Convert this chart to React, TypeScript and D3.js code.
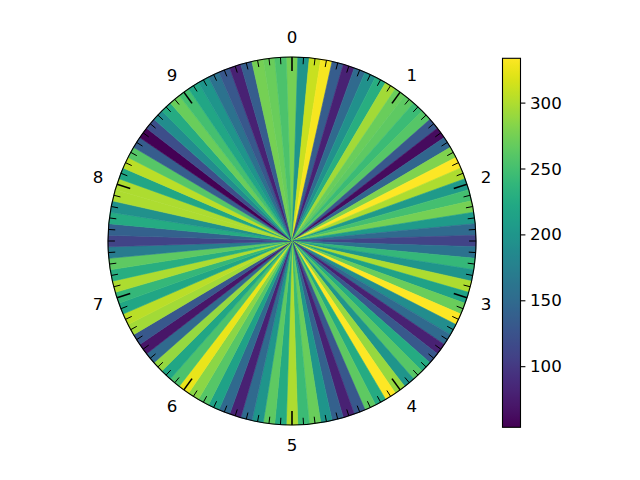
import React from "react";
import * as d3 from "d3";

// Wedge values, clockwise from the top (one wedge per 0.1 unit of theta)
const valuesQ1 = [275, 200, 310, 330, 135, 80, 150, 195, 230, 295, 270, 265, 245, 260, 130, 62, 145, 280, 334, 300, 205, 250, 275, 205, 150];
const valuesQ2 = [110, 160, 240, 200, 300, 215, 270, 333, 190, 150, 80, 130, 225, 260, 200, 290, 333, 225, 265, 130, 80, 140, 200, 270, 245];
const valuesQ3 = [300, 225, 265, 200, 150, 80, 150, 215, 260, 285, 325, 255, 220, 290, 150, 70, 130, 295, 305, 220, 240, 300, 230, 265, 170];
const valuesQ4 = [110, 140, 225, 195, 300, 300, 220, 305, 260, 135, 54, 120, 190, 225, 270, 250, 220, 200, 160, 130, 80, 135, 275, 270, 255];
const values = [...valuesQ1, ...valuesQ2, ...valuesQ3, ...valuesQ4];

const thetaLabels = ["0", "1", "2", "3", "4", "5", "6", "7", "8", "9"];
const colorbarTicks = [100, 150, 200, 250, 300];

const W = 640;
const H = 480;
const cx = 292;
const cy = 241;
const R = 184;
const FONT = "DejaVu Sans, sans-serif";
const FS = 16.67;

export default function App() {
  const n = values.length;
  const step = (2 * Math.PI) / n;
  const band = d3
    .scaleBand<number>()
    .domain(d3.range(n))
    .range([-step / 2, 2 * Math.PI - step / 2])
    .paddingInner(0)
    .paddingOuter(0);
  const theta = d3.scaleLinear().domain([0, 10]).range([0, 2 * Math.PI]);
  const ext = d3.extent(values) as [number, number];
  const color = d3.scaleSequential(d3.interpolateViridis).domain(ext);
  const arc = d3.arc<any>();

  // colorbar
  const cbX = 502.5;
  const cbW = 18;
  const cbTop = 58.3;
  const cbBot = 427.3;
  const cbScale = d3.scaleLinear().domain(ext).range([cbBot, cbTop]);
  const stops = d3.range(0, 1.0001, 0.02);

  const majorTicks = theta.ticks(10).filter((t) => t < 10);
  const minorTicks = d3.range(100).map((i) => i / 10).filter((t) => Math.abs(t - Math.round(t)) > 1e-6);

  const tickLine = (t: number, len: number) => {
    const a = theta(t);
    const s = Math.sin(a);
    const c = Math.cos(a);
    return {
      x1: cx + R * s,
      y1: cy - R * c,
      x2: cx + (R - len) * s,
      y2: cy - (R - len) * c,
    };
  };

  return (
    <svg
      width={W}
      height={H}
      style={{ position: "absolute", left: 0, top: 0, background: "#fff" }}
      fontFamily={FONT}
    >
      <defs>
        <linearGradient id="cbgrad" x1="0" y1="1" x2="0" y2="0">
          {stops.map((s, i) => (
            <stop key={i} offset={s} stopColor={d3.interpolateViridis(s)} />
          ))}
        </linearGradient>
      </defs>
      <g transform={`translate(${cx},${cy})`}>
        {values.map((v, i) => {
          const a0 = band(i)!;
          const a1 = a0 + band.bandwidth();
          const d = arc({ innerRadius: 0, outerRadius: R, startAngle: a0, endAngle: a1 }) as string;
          return <path key={i} d={d} fill={color(v)} stroke={color(v)} strokeWidth={0.6} />;
        })}
      </g>
      <circle cx={cx} cy={cy} r={R} fill="none" stroke="#000" strokeWidth={1.1} />
      {minorTicks.map((t, i) => {
        const l = tickLine(t, 6.9);
        return <line key={"mi" + i} {...l} stroke="#000" strokeWidth={1} />;
      })}
      {majorTicks.map((t, i) => {
        const l = tickLine(t, 13.9);
        return <line key={"ma" + i} {...l} stroke="#000" strokeWidth={1.6} />;
      })}
      {majorTicks.map((t, i) => {
        const a = theta(t);
        return (
          <text
            key={"tl" + i}
            x={cx + 204 * Math.sin(a)}
            y={cy - 204 * Math.cos(a)}
            textAnchor="middle"
            dominantBaseline="central"
            fontSize={FS}
            fill="#000"
          >
            {thetaLabels[i]}
          </text>
        );
      })}
      <rect x={cbX} y={cbTop} width={cbW} height={cbBot - cbTop} fill="url(#cbgrad)" />
      <rect x={cbX} y={cbTop} width={cbW} height={cbBot - cbTop} fill="none" stroke="#000" strokeWidth={1.1} />
      {colorbarTicks.map((t, i) => (
        <g key={"cb" + i}>
          <line x1={cbX + cbW} x2={cbX + cbW + 4.9} y1={cbScale(t)} y2={cbScale(t)} stroke="#000" strokeWidth={1.1} />
          <text x={cbX + cbW + 9.5} y={cbScale(t)} dominantBaseline="central" fontSize={FS} fill="#000">
            {t}
          </text>
        </g>
      ))}
    </svg>
  );
}
